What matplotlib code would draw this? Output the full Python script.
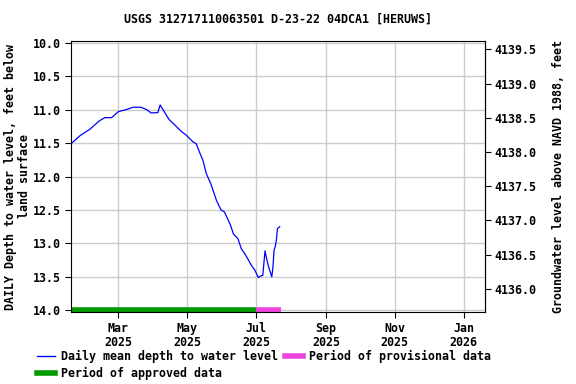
import matplotlib
matplotlib.use("Agg")
import matplotlib.pyplot as plt
from matplotlib.lines import Line2D
import pandas as pd

title = "USGS 312717110063501 D-23-22 04DCA1 [HERUWS]"
dates = ["2025-01-18", "2025-01-26", "2025-02-04", "2025-02-12", "2025-02-17", "2025-02-23",
         "2025-03-01", "2025-03-08", "2025-03-14", "2025-03-21", "2025-03-26", "2025-03-30",
         "2025-04-05", "2025-04-07", "2025-04-11", "2025-04-15", "2025-04-20", "2025-04-26",
         "2025-04-30", "2025-05-06", "2025-05-09", "2025-05-12", "2025-05-15", "2025-05-18",
         "2025-05-22", "2025-05-27", "2025-05-31", "2025-06-03", "2025-06-08", "2025-06-11",
         "2025-06-15", "2025-06-18", "2025-06-22", "2025-06-27", "2025-06-30", "2025-07-03",
         "2025-07-06", "2025-07-07", "2025-07-09", "2025-07-10", "2025-07-12", "2025-07-15",
         "2025-07-16", "2025-07-17", "2025-07-18", "2025-07-19", "2025-07-20", "2025-07-22"]
depth = [11.51, 11.39, 11.29, 11.17, 11.12, 11.12,
         11.03, 11.00, 10.965, 10.965, 11.00, 11.05,
         11.045, 10.93, 11.04, 11.15, 11.23, 11.33,
         11.38, 11.48, 11.51, 11.64, 11.76, 11.96,
         12.11, 12.36, 12.50, 12.53, 12.71, 12.86,
         12.93, 13.08, 13.18, 13.33, 13.40, 13.51,
         13.48, 13.48, 13.11, 13.20, 13.34, 13.50,
         13.36, 13.10, 13.05, 12.96, 12.78, 12.75]
approved = ("2025-01-18", "2025-07-01")
provisional = ("2025-07-01", "2025-07-23")
datum_offset = 4149.378
datum_scale = 0.978
xlim = ("2025-01-18", "2026-01-20")
ylim = (14.025, 9.975)
yticks = [10.0, 10.5, 11.0, 11.5, 12.0, 12.5, 13.0, 13.5, 14.0]
rticks = [4136.0, 4136.5, 4137.0, 4137.5, 4138.0, 4138.5, 4139.0, 4139.5]
xticks = ["2025-03-01", "2025-05-01", "2025-07-01", "2025-09-01", "2025-11-01", "2026-01-01"]
xticklabels = ["Mar\n2025", "May\n2025", "Jul\n2025", "Sep\n2025", "Nov\n2025", "Jan\n2026"]

plt.rcParams['font.family'] = ['DejaVu Sans Mono']
plt.rcParams['font.weight'] = 'bold'
fs = 8.4

fig = plt.figure(figsize=(5.76, 3.84), dpi=100)
ax = fig.add_axes([71/576, 1 - 312/384, (485-71)/576, (312-41)/384])

d = pd.to_datetime(dates)
ax.plot(d, depth, color='#0000ff', lw=0.9)
ax.plot(pd.to_datetime(list(approved)), [14.0, 14.0], color='#009900', lw=4, solid_capstyle='butt')
ax.plot(pd.to_datetime(list(provisional)), [14.0, 14.0], color='#ee44dd', lw=4, solid_capstyle='butt')

ax.set_xlim(pd.to_datetime(xlim[0]), pd.to_datetime(xlim[1]))
ax.set_ylim(*ylim)
ax.set_yticks(yticks)
ax.set_yticklabels([f"{v:.1f}" for v in yticks], fontsize=fs, fontweight='bold')
ax.set_xticks(pd.to_datetime(xticks))
ax.set_xticklabels(xticklabels, fontsize=fs, fontweight='bold', linespacing=1.1)
ax.grid(True, color='#cccccc', lw=1)
ax.set_axisbelow(True)
ax.tick_params(length=4, width=0.8, pad=3)
ax.set_title(title, fontsize=fs, fontweight='bold', pad=13)
ax.set_ylabel("DAILY Depth to water level, feet below\nland surface", fontsize=fs,
              fontweight='bold', linespacing=1.0, labelpad=2)

sec = ax.secondary_yaxis('right', functions=(lambda x: datum_offset - datum_scale * x,
                                              lambda y: (datum_offset - y) / datum_scale))
sec.set_yticks(rticks)
sec.set_yticklabels([f"{v:.1f}" for v in rticks], fontsize=fs, fontweight='bold')
sec.tick_params(length=4, width=0.8, pad=3)
sec.set_ylabel("Groundwater level above NAVD 1988, feet", fontsize=fs, fontweight='bold', labelpad=11)

handles = [Line2D([], [], color='#0000ff', lw=1),
           Line2D([], [], color='#009900', lw=4),
           Line2D([], [], color='#ee44dd', lw=4)]
labels = ["Daily mean depth to water level", "Period of approved data", "Period of provisional data"]
fig.legend(handles, labels, ncol=2, loc='upper left', bbox_to_anchor=(37/576, 1 - 350/384),
           frameon=False, fontsize=fs, handlelength=1.55, handletextpad=0.5, columnspacing=0.6,
           labelspacing=0.35, borderaxespad=0, borderpad=0)

fig.savefig("out.png", dpi=100)
